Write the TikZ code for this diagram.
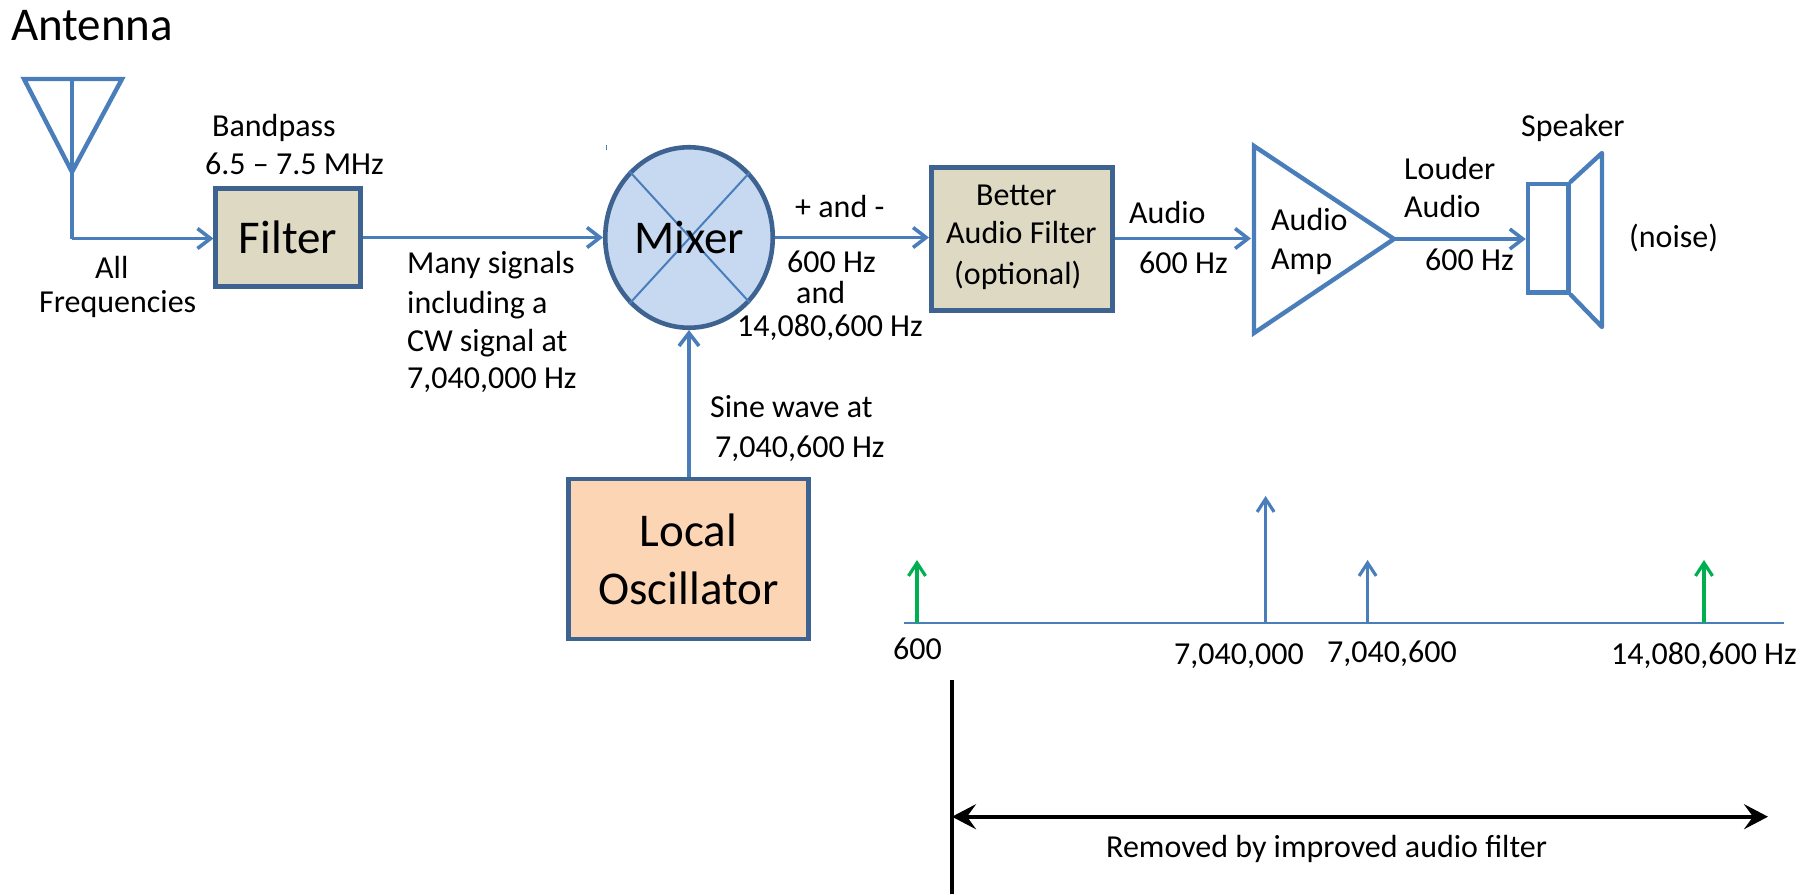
\documentclass[tikz,border=0pt]{standalone}
\usepackage{fontspec}
\setmainfont{Carlito}
\usetikzlibrary{arrows.meta,shapes.geometric}
\definecolor{wire}{HTML}{4A7EBB}
\definecolor{edge}{HTML}{3F6391}
\definecolor{tan}{HTML}{DDD9C3}
\definecolor{mixfill}{HTML}{C6D9F1}
\definecolor{oscfill}{HTML}{FCD5B5}
\definecolor{peak}{HTML}{00B050}
\tikzset{
  lbl/.style={anchor=base west,inner sep=0pt,font=\fontsize{32}{38}\selectfont},
  biglbl/.style={anchor=base west,inner sep=0pt,font=\fontsize{47}{58}\selectfont},
  block/.style={draw=edge,line width=4.6pt,rectangle,inner sep=0pt,align=center},
  sig/.style={draw=wire,line width=3.6pt,-{Straight Barb[length=13pt,width=20pt,line width=3.6pt]}},
  outline/.style={draw=wire,line width=4.4pt,line join=miter},
  spec/.style={line width=3.2pt,-{Straight Barb[length=13pt,width=17pt,line width=3.2pt]}}
}
\begin{document}
\begin{tikzpicture}[x=1pt,y=-1pt]
\useasboundingbox (0,0) rectangle (1812,894);
% antenna
\node[biglbl] (antlbl) at (11,40) {Antenna};
\coordinate (antl) at (24,79);
\coordinate (antr) at (122,79);
\coordinate (antm) at (72,79);
\coordinate (antb) at (72,172);
\coordinate (antc) at (72,238.5);
\draw[outline] (antl) -- (antb) -- (antr) -- cycle;
\draw[outline] (antm) -- (antb) -- (antc);
% filter
\node[block,fill=tan,minimum width=144.5pt,minimum height=98.5pt,font=\fontsize{47}{58}\selectfont] (filter) at (288,237.5) {Filter};
\draw[sig] (antc) -- (filter.west |- antc);
\node[lbl] (bp1) at (212,136) {Bandpass};
\node[lbl] (bp2) at (205,174) {6.5 – 7.5 MHz};
\node[lbl] (all) at (95,278) {All};
\node[lbl] (freq) at (39,312) {Frequencies};
% many signals
\node[lbl] (ms1) at (407,273) {Many signals};
\node[lbl] (ms2) at (407,313) {including a};
\node[lbl] (ms3) at (407,351) {CW signal at};
\node[lbl] (ms4) at (407,388) {7,040,000 Hz};
% mixer
\node[draw=edge,fill=mixfill,line width=4.6pt,ellipse,inner sep=0pt,minimum width=167.5pt,minimum height=180.5pt] (mixer) at (689,237.5) {};
\draw[wire,line width=2pt] (mixer.47.6) -- (mixer.-132.4);
\draw[wire,line width=2pt] (mixer.132.4) -- (mixer.-47.6);
\node[biglbl,anchor=base] (mixlbl) at (689,253) {Mixer};
\draw[sig] (filter.east) -- (mixer.west);
\draw[wire,line width=1pt] (606,145) -- (606,150);
% oscillator
\node[block,fill=oscfill,minimum width=240pt,minimum height=160pt,font=\fontsize{47}{58}\selectfont] (osc) at (688.5,559) {Local\\Oscillator};
\draw[sig] (osc.north -| mixer.south) -- (mixer.south);
\node[lbl] (sw1) at (710,417) {Sine wave at};
\node[lbl] (sw2) at (715,457) {7,040,600 Hz};
% better filter
\node[block,fill=tan,minimum width=181pt,minimum height=143pt] (better) at (1021.8,238.8) {};
\node[lbl] (bf1) at (976,205) {Better};
\node[lbl] (bf2) at (946,243) {Audio Filter};
\node[lbl] (bf3) at (954,284) {(optional)};
\draw[sig] (mixer.east) -- (better.west |- mixer.east);
\node[lbl] (pm) at (795,217) {+ and -};
\node[lbl] (mo1) at (787,272) {600 Hz};
\node[lbl] (mo2) at (796,303) {and};
\node[lbl] (mo3) at (737,336) {14,080,600 Hz};
% amplifier
\coordinate (ampt) at (1254,146);
\coordinate (ampb) at (1254,333);
\coordinate (ampa) at (1394,239);
\coordinate (ampi) at (1251,238.5);
\draw[outline] (ampt) -- (ampa) -- (ampb) -- cycle;
\draw[sig] (better.east |- ampi) -- (ampi);
\node[lbl] (a1) at (1129,223) {Audio};
\node[lbl] (a2) at (1139,273) {600 Hz};
\node[lbl] (amp1) at (1271,230) {Audio};
\node[lbl] (amp2) at (1271,269) {Amp};
% speaker
\node[draw=wire,line width=4.4pt,rectangle,inner sep=0pt,minimum width=40.5pt,minimum height=108.5pt] (spk) at (1548.2,238.2) {};
\coordinate (cont) at (1602,153);
\coordinate (conb) at (1602,327);
\draw[outline,line cap=round,line join=round] (spk.north east) -- (cont) -- (conb) -- (spk.south east);
\draw[sig] (ampa) -- (spk.west |- ampa);
\node[lbl] (sp) at (1521,136) {Speaker};
\node[lbl] (l1) at (1404,179) {Louder};
\node[lbl] (l2) at (1404,217) {Audio};
\node[lbl] (l3) at (1425,270) {600 Hz};
\node[lbl] (noise) at (1629,247) {(noise)};
% spectrum
\coordinate (axl) at (904,623);
\coordinate (axr) at (1784,623);
\draw[wire,line width=2.6pt] (axl) -- (axr);
\coordinate (p1) at (917,623);
\coordinate (p2) at (1265.6,623);
\coordinate (p3) at (1367.6,623);
\coordinate (p4) at (1704,623);
\coordinate (t1) at (917,560);
\coordinate (t2) at (1265.6,496);
\coordinate (t3) at (1367.6,560);
\coordinate (t4) at (1704,560);
\draw[spec,draw=peak] (p1) -- (t1);
\draw[spec,draw=wire] (p2) -- (t2);
\draw[spec,draw=wire] (p3) -- (t3);
\draw[spec,draw=peak] (p4) -- (t4);
\node[lbl] (f1) at (893,659) {600};
\node[lbl] (f2) at (1174,664) {7,040,000};
\node[lbl] (f3) at (1327,662) {7,040,600};
\node[lbl] (f4) at (1611,664) {14,080,600 Hz};
% removed band
\coordinate (cutt) at (951.7,680);
\coordinate (cutb) at (951.7,894);
\draw[black,line width=3.6pt] (cutt) -- (cutb);
\coordinate (bl) at (952,816.7);
\coordinate (br) at (1768,816.7);
\draw[black,line width=3.6pt,{Stealth[length=24pt,width=25pt,inset=9pt]}-{Stealth[length=24pt,width=25pt,inset=9pt]}] (bl) -- (br);
\node[lbl] (rm) at (1106,857) {Removed by improved audio filter};
\end{tikzpicture}
\end{document}
